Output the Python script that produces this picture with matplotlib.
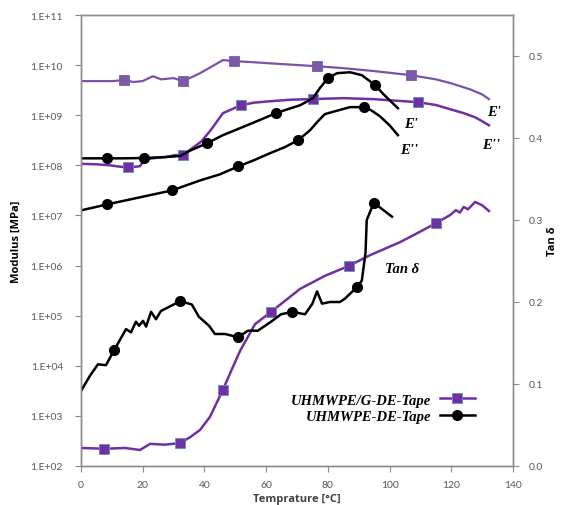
import numpy as np
import matplotlib
matplotlib.use('Agg')
import matplotlib.pyplot as plt
from matplotlib.ticker import FixedLocator, FuncFormatter
from matplotlib.lines import Line2D

# UHMWPE/G-DE-Tape, storage modulus E'
t_g_e1 = [0, 5, 10, 13.9, 17, 20, 23.3, 26, 30, 33, 36, 38.6, 42, 46, 49.6, 55, 65, 76.5,
          85, 95, 106.9, 115, 119.6, 126, 130, 132.2]
e_g_e1 = [4.8e9, 4.8e9, 4.8e9, 5.0e9, 4.6e9, 4.8e9, 6.0e9, 5.2e9, 5.5e9, 4.8e9, 5.8e9, 6.9e9,
          9.1e9, 1.26e10, 1.2e10, 1.15e10, 1.05e10, 9.5e9, 8.7e9, 7.6e9, 6.3e9, 5.2e9, 4.4e9,
          3.3e9, 2.6e9, 2.1e9]
mk_g_e1 = [3, 9, 14, 17, 20]

# UHMWPE/G-DE-Tape, loss modulus E''
t_g_e2 = [0, 5, 9.4, 12, 15.2, 17, 19.1, 20.7, 24, 27.2, 30.5, 33, 36.5, 39, 42, 46, 51.8, 56,
          61.2, 68, 75.2, 85, 95, 109.2, 115, 119.6, 124, 127.7, 130, 132.2]
e_g_e2 = [1.07e8, 1.05e8, 1.0e8, 9.5e7, 9.1e7, 9.3e7, 9.6e7, 1.32e8, 1.4e8, 1.45e8, 1.6e8,
          1.6e8, 2.3e8, 3.0e8, 5.0e8, 1.1e9, 1.58e9, 1.78e9, 1.9e9, 2.04e9, 2.1e9, 2.19e9,
          2.09e9, 1.82e9, 1.6e9, 1.32e9, 1.1e9, 9.1e8, 7.6e8, 6.3e8]
mk_g_e2 = [4, 11, 16, 20, 23]

# UHMWPE-DE-Tape, E'
t_d_e1 = [0, 8.4, 14, 20.4, 26, 30, 32.3, 35.6, 40.8, 46, 51.5, 57, 63.2, 67, 71, 75.2, 77.4,
          80, 83, 87.2, 91, 95.3, 98, 100, 102.7]
e_d_e1 = [1.38e8, 1.38e8, 1.38e8, 1.4e8, 1.45e8, 1.5e8, 1.55e8, 2.0e8, 2.75e8, 4.0e8,
          5.5e8, 7.6e8, 1.1e9, 1.32e9, 1.58e9, 2.19e9, 3.47e9, 5.5e9, 6.9e9, 7.2e9, 6.3e9,
          4.0e9, 2.63e9, 2.0e9, 1.38e9]
mk_d_e1 = [1, 3, 8, 12, 17, 21]

# UHMWPE-DE-Tape, E''
t_d_e2 = [0, 8.4, 19.1, 29.5, 38.6, 45, 50.9, 56, 61.2, 66, 70.3, 74.2, 76.8, 79, 82.3, 87.2,
          91.7, 94, 96.9, 100, 102.7]
e_d_e2 = [1.26e7, 1.66e7, 2.3e7, 3.16e7, 5.0e7, 6.6e7, 9.5e7, 1.26e8, 1.74e8, 2.3e8, 3.16e8,
          5.0e8, 7.6e8, 1.05e9, 1.2e9, 1.45e9, 1.45e9, 1.26e9, 9.5e8, 6.3e8, 4.0e8]
mk_d_e2 = [1, 3, 6, 10, 16]

# UHMWPE/G-DE-Tape, tan delta
t_g_tan = [0, 7.5, 14.3, 19.1, 22.4, 27.2, 32.1, 35.3, 38.6, 41.8, 46, 48.9, 51.5, 56.4, 61.6,
           71, 79.1, 86.8, 93.6, 103.4, 110, 115, 119.6, 121.5, 122.8, 124, 125.4, 127.7, 130,
           132.2]
v_g_tan = [0.022, 0.021, 0.022, 0.0195, 0.027, 0.026, 0.028, 0.035, 0.044, 0.06, 0.093, 0.118,
           0.14, 0.173, 0.188, 0.216, 0.232, 0.244, 0.257, 0.273, 0.286, 0.296, 0.306, 0.312,
           0.309, 0.316, 0.313, 0.322, 0.318, 0.311]
mk_g_tan = [1, 6, 10, 14, 17, 21]

# UHMWPE-DE-Tape, tan delta
t_d_tan = [0, 2.9, 5.5, 8.1, 10.7, 14.6, 16.2, 17.8, 18.8, 20.1, 21.1, 22.7, 24.3, 25.9, 32.1,
           35.9, 38.2, 41.5, 43.4, 46.7, 50.9, 54.1, 57.3, 61.6, 64.8, 68.4, 72.6, 75.0, 76.5,
           78.1, 80.7, 83.9, 85.5, 89.4, 91.0, 92.2, 92.6, 94.9, 100.8]
v_d_tan = [0.0915, 0.11, 0.124, 0.123, 0.141, 0.167, 0.163, 0.176, 0.171, 0.177, 0.17, 0.188,
           0.179, 0.189, 0.201, 0.197, 0.182, 0.171, 0.161, 0.161, 0.157, 0.165, 0.165, 0.176,
           0.185, 0.188, 0.185, 0.198, 0.213, 0.198, 0.2, 0.2, 0.204, 0.218, 0.226, 0.26, 0.30,
           0.321, 0.304]
mk_d_tan = [4, 14, 20, 25, 33, 37]

purple = '#7030a0'
purple_light = '#7b52a8'
gray = '#8c8c8c'
tick_col = '#595959'

fig = plt.figure(figsize=(5.61, 5.06), dpi=100)
ax = fig.add_axes([81 / 561, 1 - 467 / 506, 432 / 561, 451 / 506])
ax2 = ax.twinx()

sq = dict(marker='s', ms=7, mfc=purple, mec='#5b8fc9', mew=0.6)
ci = dict(marker='o', ms=7, mfc='black', mec='black')

ax.plot(t_g_e1, e_g_e1, color=purple_light, lw=1.6, markevery=mk_g_e1,
        **dict(sq, mfc='#7b5aa6', mec='#7b5aa6'))
ax.plot(t_g_e2, e_g_e2, color=purple, lw=1.8, markevery=mk_g_e2, **sq)
ax.plot(t_d_e1, e_d_e1, color='black', lw=1.8, markevery=mk_d_e1, **ci)
ax.plot(t_d_e2, e_d_e2, color='black', lw=1.8, markevery=mk_d_e2, **ci)
ax2.plot(t_g_tan, v_g_tan, color=purple, lw=1.8, markevery=mk_g_tan, **sq)
ax2.plot(t_d_tan, v_d_tan, color='black', lw=1.8, markevery=mk_d_tan, **ci)

ax.set_yscale('log')
ax.set_ylim(1e2, 1e11)
ax.set_xlim(0, 140)
ax2.set_ylim(0, 0.55)
ax.set_xticks(np.arange(0, 141, 20))
ax.yaxis.set_major_locator(FixedLocator([10.0 ** k for k in range(2, 12)]))
ax.yaxis.set_minor_locator(FixedLocator([]))
ax.yaxis.set_major_formatter(FuncFormatter(lambda v, p: '1.E+%02d' % round(np.log10(v))))
ax2.set_yticks([0, 0.1, 0.2, 0.3, 0.4, 0.5])
ax2.yaxis.set_major_formatter(FuncFormatter(lambda v, p: '%.1f' % v))

for a in (ax, ax2):
    for s in a.spines.values():
        s.set_color(gray)
        s.set_linewidth(1.0)
    a.tick_params(colors=gray, labelcolor=tick_col, labelsize=7.5, length=4, width=0.8)
    for lab in a.get_xticklabels() + a.get_yticklabels():
        lab.set_fontfamily('Lato')
ax.tick_params(axis='y', pad=9)
ax.tick_params(axis='x', pad=6)
ax2.tick_params(axis='y', pad=7)

ax.set_ylabel('Modulus [MPa]', fontsize=8, fontweight='bold', family='Open Sans', labelpad=6)
ax2.set_ylabel('Tan δ', fontsize=8, fontweight='bold', family='Open Sans', labelpad=3)
ax.set_xlabel('Temprature [°C]', fontsize=8, fontweight='bold', family='Open Sans',
              color='#404040', labelpad=3)

serif = dict(family='Liberation Serif', fontweight='bold', fontstyle='italic', fontsize=10.5)
ax.text(104.7, 5.8e8, "E'", **serif)
ax.text(103.4, 1.74e8, "E''", **serif)
ax.text(131.6, 1.0e9, "E'", **serif)
ax.text(130, 2.2e8, "E''", **serif)
ax2.text(98.5, 0.237, 'Tan δ', **serif)

handles = [Line2D([], [], color=purple, lw=1.8, **sq),
           Line2D([], [], color='black', lw=1.8, **ci)]
leg = ax.legend(handles, ['UHMWPE/G-DE-Tape', 'UHMWPE-DE-Tape'], loc='lower left',
                bbox_to_anchor=(0.455, 0.067), frameon=False, markerfirst=False,
                handlelength=2.4, labelspacing=0.2, handletextpad=0.6,
                prop=dict(family='Liberation Serif', weight='bold', style='italic', size=10.5))

fig.savefig('out.png', dpi=100)
